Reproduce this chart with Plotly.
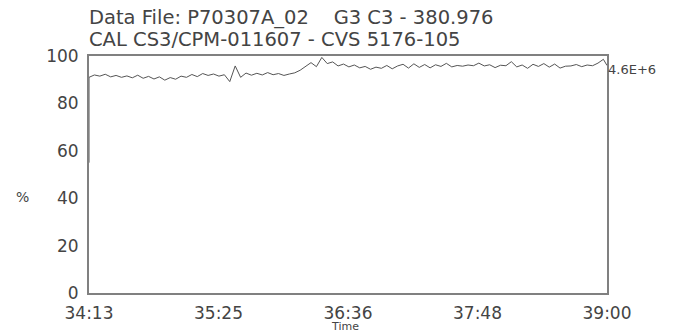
import plotly.graph_objects as go

# Scan times (seconds) and relative abundance (%)
scan_times = [2053, 2053,
    2056, 2059, 2062, 2065, 2068, 2071, 2074, 2077, 2080,
    2083, 2086, 2089, 2092, 2095, 2098, 2101, 2104, 2107, 2110,
    2113, 2116, 2119, 2122, 2125, 2128, 2131, 2134, 2137, 2140,
    2143, 2146, 2149, 2152, 2155, 2158, 2161, 2164, 2167, 2170,
    2173, 2176, 2179, 2182, 2185, 2188, 2191, 2194, 2197, 2200,
    2203, 2206, 2209, 2212, 2215, 2218, 2221, 2224, 2227, 2230,
    2233, 2236, 2239, 2242, 2245, 2248, 2251, 2254, 2257, 2260,
    2263, 2266, 2269, 2272, 2275, 2278, 2281, 2284, 2287, 2290,
    2293, 2296, 2299, 2302, 2305, 2308, 2311, 2314, 2317, 2320,
    2323, 2326, 2329, 2332, 2335, 2338, 2340]
percent = [55.0, 91.0,
    92.0, 91.5, 92.3, 91.2, 91.8, 91.0, 91.6, 90.8, 91.9,
    90.6, 91.4, 90.3, 91.2, 89.8, 90.9, 90.2, 91.5, 91.0, 92.2,
    91.3, 92.6, 91.8, 92.4, 91.5, 92.1, 89.2, 95.8, 91.0, 92.8,
    91.9, 92.7, 92.0, 93.0, 92.1, 92.6, 91.8, 92.4, 92.9, 94.0,
    95.8, 97.2, 95.5, 99.4, 96.8, 97.5, 95.8, 96.6, 95.4, 96.2,
    95.0, 95.6, 94.4, 95.3, 94.8, 96.0, 94.6, 95.8, 96.5, 94.9,
    96.7, 95.2, 96.4, 95.0, 96.3, 95.6, 96.9, 95.4, 96.0, 95.7,
    96.2, 95.9, 97.0, 95.8, 96.3, 95.1, 96.1, 95.9, 97.6, 95.4,
    96.2, 94.8, 96.5, 95.6, 96.8, 95.3, 96.6, 94.9, 95.7, 95.8,
    96.4, 95.5, 96.2, 95.9, 97.0, 98.6, 96.0]

x_tick_vals = [2053, 2124.75, 2196.5, 2268.25, 2340]
x_tick_text = ["34:13", "35:25", "36:36", "37:48", "39:00"]
y_tick_vals = [0, 20, 40, 60, 80, 100]

title_line1 = "Data File: P70307A_02    G3 C3 - 380.976"
title_line2 = "CAL CS3/CPM-011607 - CVS 5176-105"
max_label = "4.6E+6"

FONT = "DejaVu Sans"
TXT = "#444444"

fig = go.Figure()
fig.add_trace(go.Scatter(x=scan_times, y=percent, mode="lines",
                         line=dict(color="#555555", width=1), hoverinfo="skip"))

PL, PR, PT, PB = 89, 85, 56, 37
W = 692 - PL - PR
H = 330 - PT - PB

def py(ypix):
    return (330 - PB - ypix) / H

def px(xpix):
    return (xpix - PL) / W

fig.update_layout(
    width=692, height=330,
    margin=dict(l=PL, r=PR, t=PT, b=PB, autoexpand=False),
    paper_bgcolor="white", plot_bgcolor="white",
    showlegend=False,
    font=dict(family=FONT, color=TXT),
    xaxis=dict(range=[2053, 2340], tickvals=x_tick_vals, ticktext=x_tick_text,
               showgrid=False, zeroline=False, showline=True, mirror=True,
               linecolor="#808080", linewidth=2, ticks="", ticklabelstandoff=4,
               automargin=False,
               tickfont=dict(family=FONT, size=17, color=TXT)),
    yaxis=dict(range=[0, 100], tickvals=y_tick_vals,
               showgrid=False, zeroline=False, showline=True, mirror=True,
               linecolor="#808080", linewidth=2, ticks="", ticklabelstandoff=5,
               automargin=False,
               tickfont=dict(family=FONT, size=17, color=TXT)),
    annotations=[
        dict(text=title_line1, xref="paper", yref="paper", x=px(90), y=py(17.5),
             xanchor="left", yanchor="middle", showarrow=False, xshift=-3,
             font=dict(family=FONT, size=19.5, color=TXT)),
        dict(text=title_line2, xref="paper", yref="paper", x=px(90), y=py(39.5),
             xanchor="left", yanchor="middle", showarrow=False, xshift=-3,
             font=dict(family=FONT, size=19.5, color=TXT)),
        dict(text=max_label, xref="paper", yref="paper", x=px(607), y=py(69),
             xanchor="left", yanchor="middle", showarrow=False, xshift=-1,
             font=dict(family=FONT, size=13, color=TXT)),
        dict(text="%", xref="paper", yref="paper", x=px(22), y=py(197),
             xanchor="center", yanchor="middle", showarrow=False,
             font=dict(family=FONT, size=14, color=TXT)),
        dict(text="Time", xref="paper", yref="paper", x=px(345), y=py(318),
             xanchor="center", yanchor="top", showarrow=False,
             font=dict(family=FONT, size=11, color=TXT)),
    ],
)

fig.write_html("out.html", config={"displayModeBar": False},
               post_script="document.body.style.margin='0';")
